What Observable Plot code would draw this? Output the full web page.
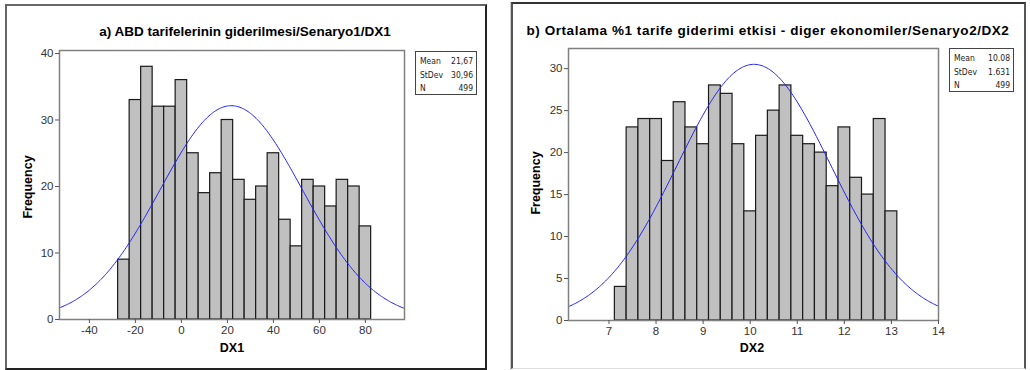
<!DOCTYPE html>
<html>
<head>
<meta charset="utf-8">
<script src="https://cdn.jsdelivr.net/npm/d3@7"></script>
<script src="https://cdn.jsdelivr.net/npm/@observablehq/plot@0.6"></script>
<style>
  html, body { margin: 0; padding: 0; background: #fff; }
  #page { position: relative; width: 1030px; height: 370px; overflow: hidden; font-family: "Liberation Sans", Arial, sans-serif; }
  .abs { position: absolute; }
  .title { font-weight: bold; font-size: 13.5px; color: #000; white-space: nowrap; transform: translateX(-50%); }
  .axlab { font-weight: bold; font-size: 12.5px; color: #000; white-space: nowrap; }
  .stats { border: 1.5px solid #444; font-family: "DejaVu Sans Condensed", "Liberation Sans", sans-serif; font-size: 8.5px; color: #222; box-sizing: border-box; padding: 3px 3px 0 4px; line-height: 13.5px; }
  .stats div { display: flex; justify-content: space-between; }
</style>
</head>
<body>
<div id="page">
  <div class="abs" style="left:5px;top:4px;width:478px;height:362px;border-left:2px solid #666;border-top:2px solid #666;border-right:2px solid #222;border-bottom:2px solid #222;"></div>
  <div class="abs" style="left:510px;top:2px;width:1px;height:368px;background:#ccc;"></div>
  <div class="abs" style="left:511px;top:2px;width:511px;height:364px;border-left:2px solid #555;border-top:2px solid #333;border-right:2px solid #555;border-bottom:1px solid #ddd;"></div>

  <div id="chartA" class="abs" style="left:0;top:0;"></div>
  <div id="chartB" class="abs" style="left:515px;top:0;"></div>

  <div class="abs title" style="left:245px;top:24px;">a) ABD tarifelerinin giderilmesi/Senaryo1/DX1</div>
  <div class="abs title" style="left:768px;top:23px;letter-spacing:0.55px;">b) Ortalama %1 tarife giderimi etkisi - diger ekonomiler/Senaryo2/DX2</div>

  <div class="abs axlab" style="left:232px;top:341px;transform:translateX(-50%);">DX1</div>
  <div class="abs axlab" style="left:752px;top:341px;transform:translateX(-50%);">DX2</div>
  <div class="abs axlab" style="left:28px;top:187px;transform:translate(-50%,-50%) rotate(-90deg);">Frequency</div>
  <div class="abs axlab" style="left:536px;top:183px;transform:translate(-50%,-50%) rotate(-90deg);">Frequency</div>

  <div class="abs stats" style="left:415px;top:51px;width:62px;height:44px;">
    <div><span>Mean</span><span id="mA"></span></div>
    <div><span>StDev</span><span id="sA"></span></div>
    <div><span>N</span><span id="nA"></span></div>
  </div>
  <div class="abs stats" style="left:949px;top:48px;width:65px;height:44px;">
    <div><span>Mean</span><span id="mB"></span></div>
    <div><span>StDev</span><span id="sB"></span></div>
    <div><span>N</span><span id="nB"></span></div>
  </div>
</div>
<script>
// ---------- Data: panel a (DX1) ----------
const binStartA = [-27.5, -22.5, -17.5, -12.5, -7.5, -2.5, 2.5, 7.5, 12.5, 17.5, 22.5, 27.5, 32.5, 37.5, 42.5, 47.5, 52.5, 57.5, 62.5, 67.5, 72.5, 77.5];
const countsA   = [9, 33, 38, 32, 32, 36, 25, 19, 22, 30, 21, 18, 20, 25, 15, 11, 21, 20, 17, 21, 20, 14];
const binWidthA = 5;
const statsA = {mean: 21.67, sd: 30.96, n: 499, meanLabel: "21,67", sdLabel: "30,96", nLabel: "499"};
const xTicksA = [-40, -20, 0, 20, 40, 60, 80];
const yTicksA = [0, 10, 20, 30, 40];

// ---------- Data: panel b (DX2) ----------
const binStartB = [7.125, 7.375, 7.625, 7.875, 8.125, 8.375, 8.625, 8.875, 9.125, 9.375, 9.625, 9.875, 10.125, 10.375, 10.625, 10.875, 11.125, 11.375, 11.625, 11.875, 12.125, 12.375, 12.625, 12.875];
const countsB   = [4, 23, 24, 24, 19, 26, 23, 21, 28, 27, 21, 13, 22, 25, 28, 22, 21, 20, 16, 23, 17, 15, 24, 13];
const binWidthB = 0.25;
const statsB = {mean: 10.08, sd: 1.631, n: 499, meanLabel: "10.08", sdLabel: "1.631", nLabel: "499"};
const xTicksB = [7, 8, 9, 10, 11, 12, 13, 14];
const yTicksB = [0, 5, 10, 15, 20, 25, 30];

function fittedNormal(domain, stats, bw) {
  // fitted normal density scaled to counts (N * bin width * pdf)
  const pts = [];
  const steps = 300;
  for (let i = 0; i <= steps; i++) {
    const x = domain[0] + (domain[1] - domain[0]) * i / steps;
    const z = (x - stats.mean) / stats.sd;
    const y = stats.n * bw * Math.exp(-0.5 * z * z) / (stats.sd * Math.sqrt(2 * Math.PI));
    pts.push({x, y});
  }
  return pts;
}

function histo({starts, counts, bw, stats, xDomain, yDomain, xTicks, yTicks, width, height, margins}) {
  const bars = starts.map((s, i) => ({x1: s, x2: s + bw, y: counts[i]}));
  const fmt = d => String(d);
  return Plot.plot({
    width, height,
    marginLeft: margins[0], marginTop: margins[1], marginRight: margins[2], marginBottom: margins[3],
    style: {fontFamily: "'Liberation Sans', Arial, sans-serif", fontSize: "11.5px", color: "#333", background: "transparent", overflow: "visible"},
    x: {domain: xDomain, ticks: xTicks},
    y: {domain: yDomain, ticks: yTicks},
    marks: [
      Plot.rectY(bars, {x1: "x1", x2: "x2", y: "y", fill: "#c0c0c0", stroke: "#1a1a1a", strokeWidth: 1.2}),
      Plot.line(fittedNormal(xDomain, stats, bw), {x: "x", y: "y", stroke: "#2020ff", strokeWidth: 1, clip: true}),
      Plot.frame({stroke: "#808080", strokeWidth: 1.5}),
      Plot.axisX({ticks: xTicks, tickFormat: fmt, tickSize: 4, tickPadding: 2, label: null, fontSize: 11.5, stroke: "#555"}),
      Plot.axisY({ticks: yTicks, tickFormat: fmt, tickSize: 4, tickPadding: 2, label: null, fontSize: 11.5, stroke: "#555"})
    ]
  });
}

document.getElementById("chartA").appendChild(histo({
  starts: binStartA, counts: countsA, bw: binWidthA, stats: statsA,
  xDomain: [-53, 97], yDomain: [0, 40.45], xTicks: xTicksA, yTicks: yTicksA,
  width: 500, height: 370, margins: [59, 50, 96, 51]
}));
document.getElementById("chartB").appendChild(histo({
  starts: binStartB, counts: countsB, bw: binWidthB, stats: statsB,
  xDomain: [6.14, 14.0], yDomain: [0, 32.4], xTicks: xTicksB, yTicks: yTicksB,
  width: 515, height: 370, margins: [53, 48, 92, 50]
}));

document.getElementById("mA").textContent = statsA.meanLabel;
document.getElementById("sA").textContent = statsA.sdLabel;
document.getElementById("nA").textContent = statsA.nLabel;
document.getElementById("mB").textContent = statsB.meanLabel;
document.getElementById("sB").textContent = statsB.sdLabel;
document.getElementById("nB").textContent = statsB.nLabel;
</script>
</body>
</html>
